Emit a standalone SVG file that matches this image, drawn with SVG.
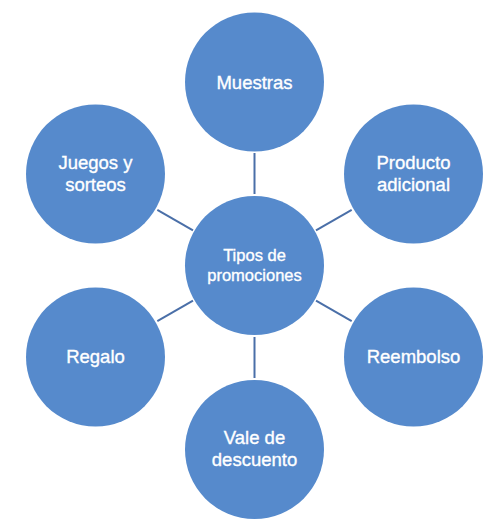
<svg xmlns="http://www.w3.org/2000/svg" width="504" height="524" viewBox="0 0 504 524">
<style>
.n{fill:#568ACC}
.t{fill:#fff;stroke:#fff;stroke-width:0.35px;font-family:"Liberation Sans",Arial,sans-serif;font-size:18.5px;text-anchor:middle}
.c{font-size:16.5px}
.l{stroke:#4A6FA8;stroke-width:2;fill:none}
</style>
<rect width="504" height="524" fill="#fff"/>
<g id="connectors">
<line class="l" x1="254.5" y1="153" x2="254.5" y2="194"/>
<line class="l" x1="254.5" y1="337" x2="254.5" y2="378"/>
<line class="l" x1="157.3" y1="209.8" x2="193" y2="230.3"/>
<line class="l" x1="351.7" y1="209.8" x2="316" y2="230.3"/>
<line class="l" x1="157.3" y1="321.2" x2="193" y2="300.7"/>
<line class="l" x1="351.7" y1="321.2" x2="316" y2="300.7"/>
</g>
<g id="center"><circle class="n" cx="254.5" cy="265.5" r="69.5"/><text class="t c" x="254.5" y="261">Tipos de</text><text class="t c" x="254.5" y="280.5">promociones</text></g>
<g id="muestras"><circle class="n" cx="254.5" cy="82" r="69.5"/><text class="t" x="254.5" y="88.5">Muestras</text></g>
<g id="producto"><circle class="n" cx="413.5" cy="174" r="69.5"/><text class="t" x="413.5" y="168.5">Producto</text><text class="t" x="413.5" y="191">adicional</text></g>
<g id="reembolso"><circle class="n" cx="413.5" cy="357" r="69.5"/><text class="t" x="413.5" y="363">Reembolso</text></g>
<g id="vale"><circle class="n" cx="254.5" cy="449.5" r="69.5"/><text class="t" x="254.5" y="443.5">Vale de</text><text class="t" x="254.5" y="466">descuento</text></g>
<g id="regalo"><circle class="n" cx="95.5" cy="357" r="69.5"/><text class="t" x="95.5" y="363">Regalo</text></g>
<g id="juegos"><circle class="n" cx="95.5" cy="174" r="69.5"/><text class="t" x="95.5" y="168.5">Juegos y</text><text class="t" x="95.5" y="191">sorteos</text></g>
</svg>
